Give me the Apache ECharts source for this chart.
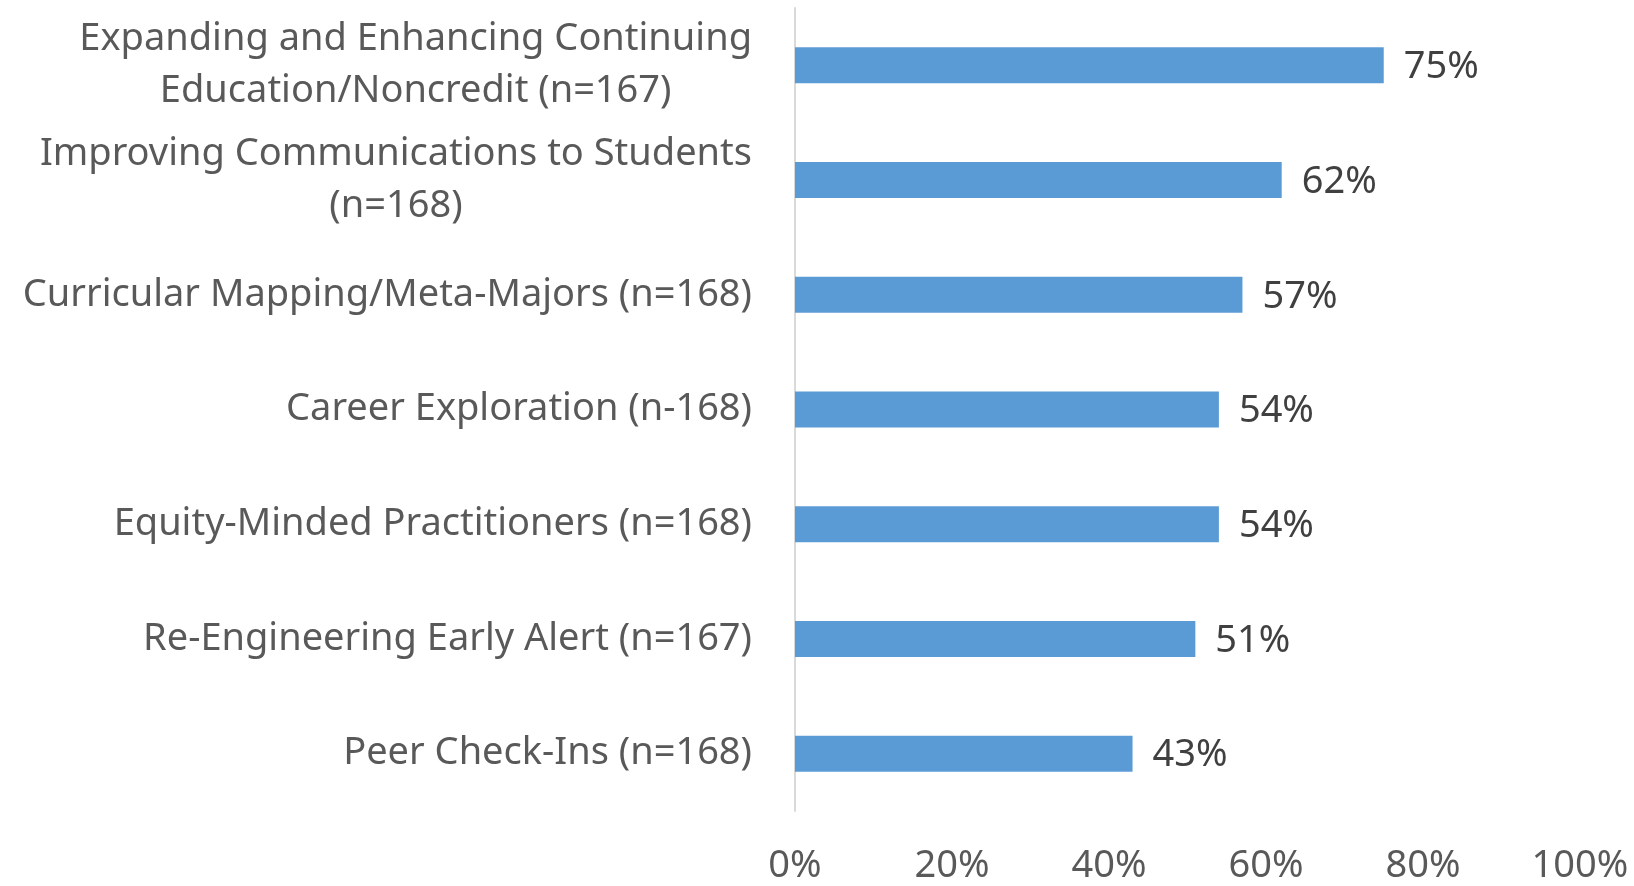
<!DOCTYPE html>
<html>
<head>
<meta charset="utf-8">
<script src="https://cdn.jsdelivr.net/npm/echarts@6/dist/echarts.min.js"></script>
<style>
html,body{margin:0;padding:0;background:#fff;}
#main{width:1634px;height:886px;}
</style>
</head>
<body>
<div id="main"></div>
<script>
// categories, top to bottom
var categories=[
  "Expanding and Enhancing Continuing\nEducation/Noncredit (n=167)",
  "Improving Communications to Students\n(n=168)",
  "Curricular Mapping/Meta-Majors (n=168)",
  "Career Exploration (n-168)",
  "Equity-Minded Practitioners (n=168)",
  "Re-Engineering Early Alert (n=167)",
  "Peer Check-Ins (n=168)"
];
var values=[75,62,57,54,54,51,43];
var xTicks=[0,20,40,60,80,100];

var textColor="#595959";
var fontName="Noto Sans";
var fontSz=38;

var myChart=echarts.init(document.getElementById("main"));

var option={
  animation:false,
  grid:{
    left:795,
    right:54,
    top:8,
    bottom:75,
    containLabel:false
  },
  xAxis:{
    type:'value',
    min:xTicks[0],
    max:xTicks[xTicks.length-1],
    interval:xTicks[1]-xTicks[0],
    axisLine:{show:false},
    axisTick:{show:false},
    splitLine:{show:false},
    axisLabel:{
      formatter:'{value}%',
      color:textColor,
      fontFamily:fontName,
      fontSize:fontSz,
      margin:36
    }
  },
  yAxis:{
    type:'category',
    inverse:true,
    data:categories,
    axisLine:{show:true,lineStyle:{color:"#D9D9D9",width:2}},
    axisTick:{show:false},
    axisLabel:{
      margin:43,
      align:'right',
      formatter:function(v){
        return v.split("\n").map(function(s){return "{c|"+s+"}";}).join("\n");
      },
      rich:{
        c:{
          align:'center',
          color:textColor,
          fontFamily:fontName,
          fontSize:fontSz,
          lineHeight:52
        }
      }
    }
  },
  series:[{
    type:'bar',
    data:values,
    barWidth:36,
    itemStyle:{color:"#5B9BD5"},
    label:{
      show:true,
      position:'right',
      distance:20,
      offset:[0,2],
      formatter:'{c}%',
      color:"#404040",
      fontFamily:fontName,
      fontSize:fontSz
    }
  }]
};

myChart.setOption(option);
</script>
</body>
</html>
